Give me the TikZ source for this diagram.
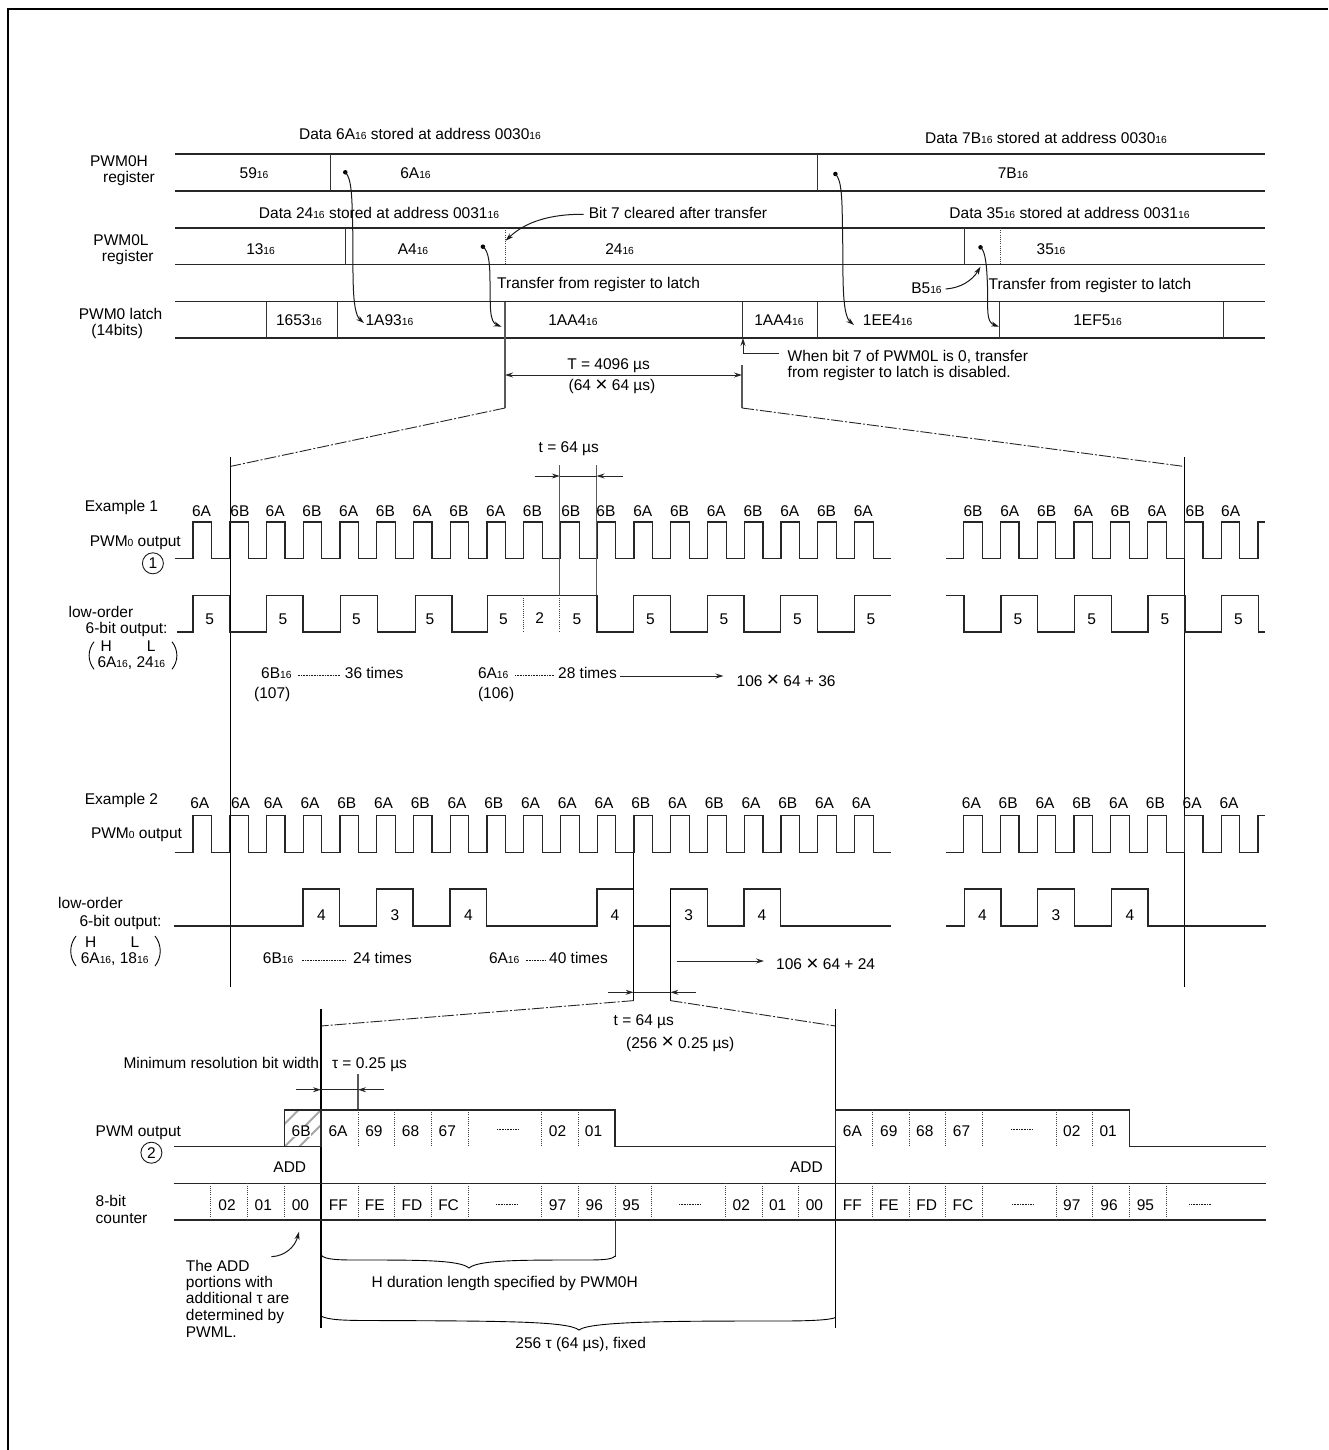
\documentclass[tikz,border=0pt]{standalone}
\usepackage{fontspec}
\setmainfont{Liberation Sans}
\usetikzlibrary{arrows.meta}
\newcount\nn
\tikzset{
  x=1pt,y=-1pt,
  lab/.style={inner sep=0pt,text height=11pt,text depth=0pt,font=\fontsize{15.5}{16}\selectfont,text=black},
  rowline/.style={line width=1.1pt,black!85},
  splitln/.style={line width=1pt,black!80},
  guide/.style={line width=1.2pt,black!65},
  thinv/.style={line width=.9pt,black},
  wave/.style={line width=1.2pt,black!85,line join=miter},
  dotln/.style={line width=.8pt,black!75,dash pattern=on 1pt off 1.2pt},
  fineln/.style={line width=1pt,black!90,dash pattern=on .9pt off .7pt},
  dimln/.style={line width=1pt,black!85},
  arrowed/.style={-{Stealth[length=8pt,width=5pt]}},
  dashdot/.style={line width=.9pt,black!85,dash pattern=on 12pt off 2pt on 2pt off 2pt},
  curveln/.style={line width=1pt,black!90},
  knob/.style={circle,fill=black,inner sep=0pt,minimum size=4.5pt},
  ring/.style={circle,draw=black!90,line width=.9pt,inner sep=0pt,minimum size=21pt,font=\fontsize{15.5}{16}\selectfont},
  hatchline/.style={line width=2pt,black!35},
}
\newcommand\tx[4][center]{\global\advance\nn by 1 \node[lab,anchor=#1] (t\the\nn) at (#2,#3) {#4};}
\newcommand\sbs[1]{{\fontsize{10.3}{10}\selectfont #1}}
\newcommand\X{\raisebox{-.5pt}{\fontsize{21}{21}\selectfont ×}}
\newcommand\pwmA[2]{\draw[wave] (174.5,#2) \foreach \k in {0,...,18}{ -| ({192.9+36.76*\k},#1) -| ({211.5+36.76*\k},#2)} -- (891,#2);}
\newcommand\pwmB[2]{\draw[wave] (946,#2) \foreach \k in {0,...,7}{ -| ({963.5+36.8*\k},#1) -| ({982.2+36.8*\k},#2)} -| (1258,#1) -- (1265,#1);}
\newcommand\lowL[4]{\draw[wave] (#3,#2) \foreach \r/\f in {#4}{ -| (\r,#1) -| (\f,#2)}}
\begin{document}
\begin{tikzpicture}
\useasboundingbox (0,0) rectangle (1328,1450);
% frame
\draw[line width=2.6pt,black] (8,1450) -- (8,9) -- (1328,9);

% ===== registers
\foreach \y in {154,191,228,264.7,301.5,338}{\draw[rowline] (175,\y) -- (1265,\y);}
\foreach \x/\a/\b in {330/154/191,817.6/154/191,345.3/228/264.7,964/228/264.7,266/301.5/338,337.6/301.5/338,742/301.5/338,817.6/301.5/338,999/301.5/338,1223.7/301.5/338}
  {\draw[splitln] (\x,\a) -- (\x,\b);}
\draw[dotln] (505,228) -- (505,264.7);
\draw[dotln] (1000.7,228) -- (1000.7,264.7);
\draw[guide] (505,301.5) -- (505,408);
\draw[guide] (742,365) -- (742,408);

\tx{119}{161}{PWM0H}
\tx{129}{176.7}{register}
\tx{121}{240}{PWM0L}
\tx{127.8}{256}{register}
\tx{120.6}{314}{PWM0 latch}
\tx{117.3}{330}{(14bits)}

\tx{420}{134}{Data 6A\sbs{16} stored at address 0030\sbs{16}}
\tx{1046}{138}{Data 7B\sbs{16} stored at address 0030\sbs{16}}
\tx{379}{212.7}{Data 24\sbs{16} stored at address 0031\sbs{16}}
\tx[west]{588.6}{212.7}{Bit 7 cleared after transfer}
\tx{1069.5}{212.7}{Data 35\sbs{16} stored at address 0031\sbs{16}}
\tx[west]{497}{282.7}{Transfer from register to latch}
\tx[west]{988.4}{284}{Transfer from register to latch}
\tx{926.5}{288}{B5\sbs{16}}

\tx{254}{173}{59\sbs{16}}
\tx{415.5}{173}{6A\sbs{16}}
\tx{1013}{173}{7B\sbs{16}}
\tx{260.6}{249}{13\sbs{16}}
\tx{413}{249}{A4\sbs{16}}
\tx{619.6}{249}{24\sbs{16}}
\tx{1051}{249}{35\sbs{16}}
\tx{299}{320}{1653\sbs{16}}
\tx{389.4}{320}{1A93\sbs{16}}
\tx{573}{320}{1AA4\sbs{16}}
\tx{779}{320}{1AA4\sbs{16}}
\tx{887.6}{320}{1EE4\sbs{16}}
\tx{1097.6}{320}{1EF5\sbs{16}}

% transfer curves
\node[knob] (d1) at (345.3,172.3) {};
\node[knob] (d2) at (482.9,246.7) {};
\node[knob] (d3) at (835.4,174) {};
\node[knob] (d4) at (980.5,247.3) {};
\coordinate (e1) at (364,323);
\coordinate (e2) at (501.6,326.7);
\coordinate (e3) at (854,325);
\coordinate (e4) at (999,326.7);
\draw[curveln,arrowed] (d1.center) .. controls (352,178) and (352,200) .. (352.7,228) .. controls (353.5,270) and (351,312) .. (e1);
\draw[curveln,arrowed] (d2.center) .. controls (489,251) and (490,265) .. (490,283) .. controls (490.5,305) and (489,322) .. (e2);
\draw[curveln,arrowed] (d3.center) .. controls (842,180) and (842,200) .. (842.5,228) .. controls (843.5,270) and (841,314) .. (e3);
\draw[curveln,arrowed] (d4.center) .. controls (986,251) and (987,270) .. (987.6,290) .. controls (988,310) and (986,322) .. (e4);
\coordinate (c1) at (583.7,214.3);
\coordinate (c2) at (505.7,240.7);
\draw[curveln,arrowed] (c1) .. controls (550,214) and (525,222) .. (c2);
\coordinate (c3) at (945.7,289);
\coordinate (c4) at (980.5,266.7);
\draw[curveln,arrowed] (c3) .. controls (960,288) and (972,281) .. (c4);

% T dimension
\coordinate (ta) at (505,375);
\coordinate (tb) at (742,375);
\draw[dimln,{Stealth[length=8pt,width=5pt]}-{Stealth[length=8pt,width=5pt]}] (ta) -- (tb);
\tx{608.6}{364}{T = 4096 µs}
\tx{612}{385}{(64 \X{} 64 µs)}
\coordinate (la) at (779,353);
\coordinate (lb) at (743,338);
\draw[dimln,arrowed] (la) -- (743,353) -- (lb);
\tx[west]{787.5}{356}{When bit 7 of PWM0L is 0, transfer}
\tx[west]{787.5}{372}{from register to latch is disabled.}

% zoom lines
\coordinate (z1) at (505,408);
\coordinate (z2) at (742,408);
\coordinate (z3) at (230,466.5);
\coordinate (z4) at (1184.5,466.5);
\draw[dashdot] (z1) -- (z3);
\draw[dashdot] (z2) -- (z4);
\draw[thinv] (230,457) -- (230,987);
\draw[thinv] (1184.5,457) -- (1184.5,987);

% ===== Example 1
\tx[west]{84.7}{506}{Example 1}
\tx[west]{89.6}{541}{PWM\sbs{0} output}
\node[ring] (r1) at (152.9,563.3) {1};
\pwmA{522}{558.7}
\pwmB{522}{558.7}
\foreach \l [count=\i from 0] in {6A,6B,6A,6B,6A,6B,6A,6B,6A,6B,6B,6B,6A,6B,6A,6B,6A,6B,6A}{
  \tx{{201.6+36.76*\i+(\i==1)*1.6+(\i==10)*1.6}}{510.7}{\l}}
\foreach \l [count=\i from 0] in {6B,6A,6B,6A,6B,6A,6B,6A}{
  \tx{{973+36.8*\i+(\i==6)*1.4}}{510.7}{\l}}
\lowL{595.3}{632}{177.3}{192.9/229.6,266.3/303,340.6/377.8,415.3/452,487.6/597,633.7/670.4,707.3/744,780.8/817.6} -| (854.4,595.3) -- (891,595.3);
\draw[wave] (946,595.3) -| (964,632) \foreach \r/\f in {1001/1037.8,1074.6/1111.4,1148/1185,1221.3/1258.5}{ -| (\r,595.3) -| (\f,632)} -- (1264.5,632);
\draw[dotln] (523.5,595.3) -- (523.5,632);
\draw[dotln] (559.8,595.3) -- (559.8,632);
\foreach \x in {209.6,283,356.5,430,503.5,577,650.4,723.9,797.4,871,1018,1091.6,1165,1238.3}{\tx{\x}{619}{5}}
\tx{539.8}{617.7}{2}
\draw[guide] (559.8,465) -- (559.8,595.3);
\draw[guide] (596.5,465) -- (596.5,595.3);
\coordinate (ea) at (534.5,476);
\coordinate (eb) at (559.8,476);
\coordinate (ec) at (622.6,476);
\coordinate (ed) at (596.5,476);
\draw[dimln] (eb) -- (ed);
\draw[dimln,arrowed] (ea) -- (eb);
\draw[dimln,arrowed] (ec) -- (ed);
\tx{568.8}{447}{t = 64 µs}
\tx[west]{68.4}{612}{low-order}
\tx[west]{85.5}{628}{6-bit output:}
\tx{106.3}{646}{H}
\tx{151.2}{646}{L}
\tx[west]{97.3}{662}{6A\sbs{16}, 24\sbs{16}}
\draw[line width=.9pt] (94,641.7) .. controls (87.5,650) and (87.5,661) .. (94,669.3);
\draw[line width=.9pt] (172,641.7) .. controls (178.5,650) and (178.5,661) .. (172,669.3);
\tx[west]{261}{673}{6B\sbs{16}}
\draw[fineln] (297.8,675.3) -- (340.6,675.3);
\tx[west]{344.7}{673}{36 times}
\tx[west]{254}{693.3}{(107)}
\tx[west]{477.8}{673}{6A\sbs{16}}
\draw[fineln] (515,675.3) -- (554.5,675.3);
\tx[west]{558}{673}{28 times}
\tx[west]{477.8}{693.3}{(106)}
\coordinate (fa) at (620,676);
\coordinate (fb) at (723.5,676);
\draw[dimln,arrowed] (fa) -- (fb);
\tx[west]{736.5}{680.7}{106 \X{} 64 + 36}

% ===== Example 2
\tx[west]{84.7}{799}{Example 2}
\tx[west]{90.8}{833}{PWM\sbs{0} output}
\pwmA{815.7}{852.7}
\pwmB{815.7}{852.7}
\foreach \l [count=\i from 0] in {6A,6A,6A,6A,6B,6A,6B,6A,6B,6A,6A,6A,6B,6A,6B,6A,6B,6A,6A}{
  \tx{{199.8+36.75*\i+(\i==1)*4}}{803.3}{\l}}
\foreach \l [count=\i from 0] in {6A,6B,6A,6B,6A,6B,6A,6A}{
  \tx{{971.4+36.8*\i}}{803.3}{\l}}
\lowL{889}{926}{173.7}{303/339.8,376.5/412.9,450/486.3,597/633.7,670.8/707.3,744/780.4} -- (891,926);
\lowL{889}{926}{946}{964.3/1001,1037.8/1074.6,1111.4/1148} -- (1266,926);
\foreach \x/\l in {321.4/4,394.9/3,468.4/4,615/4,688.7/3,761.9/4,982.5/4,1056/3,1130/4}{\tx{\x}{915}{\l}}
\tx[west]{58}{903}{low-order}
\tx[west]{79.4}{920.7}{6-bit output:}
\tx{90.8}{941.7}{H}
\tx{134.9}{941.7}{L}
\tx[west]{80.6}{958}{6A\sbs{16}, 18\sbs{16}}
\draw[line width=.9pt] (76,936) .. controls (69,945) and (69,957) .. (76,966);
\draw[line width=.9pt] (155,936) .. controls (162,945) and (162,957) .. (155,966);
\tx[west]{262.7}{958}{6B\sbs{16}}
\draw[fineln] (301.8,960) -- (345.5,960);
\tx[west]{353}{958}{24 times}
\tx[west]{488.8}{958}{6A\sbs{16}}
\draw[fineln] (525.5,960) -- (545.5,960);
\tx[west]{549}{958}{40 times}
\coordinate (ga) at (676.5,961);
\coordinate (gb) at (764,961);
\draw[dimln,arrowed] (ga) -- (gb);
\tx[west]{776}{964}{106 \X{} 64 + 24}
\draw[thinv] (633.6,852.7) -- (633.6,1000.6);
\draw[thinv] (670.4,889) -- (670.4,1000.6);
\coordinate (ha) at (607.8,992.3);
\coordinate (hb) at (633.6,992.3);
\coordinate (hc) at (696,992.3);
\coordinate (hd) at (670.4,992.3);
\draw[dimln] (hb) -- (hd);
\draw[dimln,arrowed] (ha) -- (hb);
\draw[dimln,arrowed] (hc) -- (hd);

% zoom lines 2
\coordinate (y1) at (633.6,1000.6);
\coordinate (y2) at (670.4,1000.6);
\coordinate (y3) at (321,1026);
\coordinate (y4) at (835.5,1026);
\draw[dashdot] (y1) -- (y3);
\draw[dashdot] (y2) -- (y4);
\draw[thinv,line width=1.1pt] (321,1009) -- (321,1328);
\draw[thinv,line width=1.1pt] (835.5,1009) -- (835.5,1328);
\tx{643.8}{1020}{t = 64 µs}
\tx[west]{626}{1042.7}{(256 \X{} 0.25 µs)}

% ===== detail
\tx[west]{123.3}{1063.3}{Minimum resolution bit width}
\tx[west]{331.8}{1063.3}{τ = 0.25 µs}
\draw[guide] (358,1074) -- (358,1110);
\coordinate (ia) at (295.5,1089.7);
\coordinate (ib) at (321,1089.7);
\coordinate (ic) at (384,1089.7);
\coordinate (id) at (358,1089.7);
\draw[dimln] (ib) -- (id);
\draw[dimln,arrowed] (ia) -- (ib);
\draw[dimln,arrowed] (ic) -- (id);

\begin{scope}
\clip (284.5,1110) rectangle (321,1146.7);
\draw[hatchline] (284.5,1124) -- (298.5,1110);
\draw[hatchline] (321,1110) -- (284.5,1146.7);
\draw[hatchline] (321,1125) -- (299,1147);
\end{scope}
\draw[wave] (174.3,1146.7) -| (284.5,1110) -| (321,1146.7) -- (174.3,1146.7);
\draw[wave] (321,1146.7) -- (321,1110) -| (615,1146.7) -| (835.5,1110) -| (1129.6,1146.7) -- (1265.6,1146.7);
\foreach \x in {358,394.7,431.4,468,541.6,578.4,872.6,909,945.7,982.5,1056,1092.4}{\draw[dotln] (\x,1110) -- (\x,1146.7);}
\tx[west]{95.5}{1131}{PWM output}
\node[ring] (r2) at (151.4,1152.7) {2};
\global\advance\nn by 1
\node[lab,fill=white,inner xsep=.5pt] (t\the\nn) at (301.2,1131) {6B};
\foreach \x/\l in {338/6A,373.9/69,410.6/68,447.3/67,557.6/02,593.5/01,852.4/6A,888.8/69,924.8/68,961.5/67,1071.8/02,1108.2/01}{\tx{\x}{1131}{\l}}
\draw[fineln] (497,1129) -- (518,1129);
\draw[fineln] (1011,1129) -- (1032.7,1129);
\tx{289.8}{1166.7}{ADD}
\tx{806.5}{1166.7}{ADD}

\draw[rowline] (173.5,1183.3) -- (1266,1183.3);
\draw[rowline] (173.5,1220) -- (1266,1220);
\foreach \x in {210.6,247.8,284.5,358,394.7,431.4,468,541.6,578.4,615,651.8,725.5,762.2,798.6,872.6,909,945.7,982.5,1056,1092.4,1129.6,1166.4}{\draw[dotln] (\x,1183.3) -- (\x,1220);}
\foreach \x/\l in {227/02,263.3/01,300.4/00,338.4/FF,374.7/FE,412/FD,448.6/FC,557.6/97,594.3/96,631/95,741.3/02,777.7/01,814.4/00,852.4/FF,888.8/FE,926.7/FD,963/FC,1071.8/97,1109/96,1145.4/95}{\tx{\x}{1205}{\l}}
\foreach \a/\b in {496/518,679/700,1012/1034,1189.3/1211}{\draw[fineln] (\a,1204.5) -- (\b,1204.5);}
\tx[west]{95.5}{1201}{8-bit}
\tx[west]{95.5}{1218}{counter}

\draw[splitln] (615,1220) -- (615,1257);
\draw[line width=.9pt,black] (321,1255) .. controls (325,1260) and (340,1260) .. (360,1260) .. controls (420,1260) and (460,1260) .. (469,1268) .. controls (478,1260) and (520,1260) .. (580,1260) .. controls (600,1260) and (612,1260) .. (615,1256);
\tx[west]{371.4}{1281.7}{H duration length specified by PWM0H}
\draw[line width=.9pt,black] (321,1316) .. controls (328,1320) and (345,1320.5) .. (370,1320.5) .. controls (500,1321) and (568,1321) .. (579,1330) .. controls (590,1321) and (680,1321) .. (780,1321) .. controls (810,1321) and (830,1320) .. (835.5,1317.5);
\tx{580.7}{1342.7}{256 τ (64 µs), fixed}
\tx[west]{185.7}{1265.7}{The ADD}
\tx[west]{185.7}{1282}{portions with}
\tx[west]{185.7}{1298.3}{additional τ are}
\tx[west]{185.7}{1315}{determined by}
\tx[west]{185.7}{1331.7}{PWML.}
\coordinate (ka) at (271.4,1256.7);
\coordinate (kb) at (299,1231.7);
\draw[curveln,arrowed] (ka) .. controls (285,1256) and (295,1247) .. (kb);
\end{tikzpicture}
\end{document}
